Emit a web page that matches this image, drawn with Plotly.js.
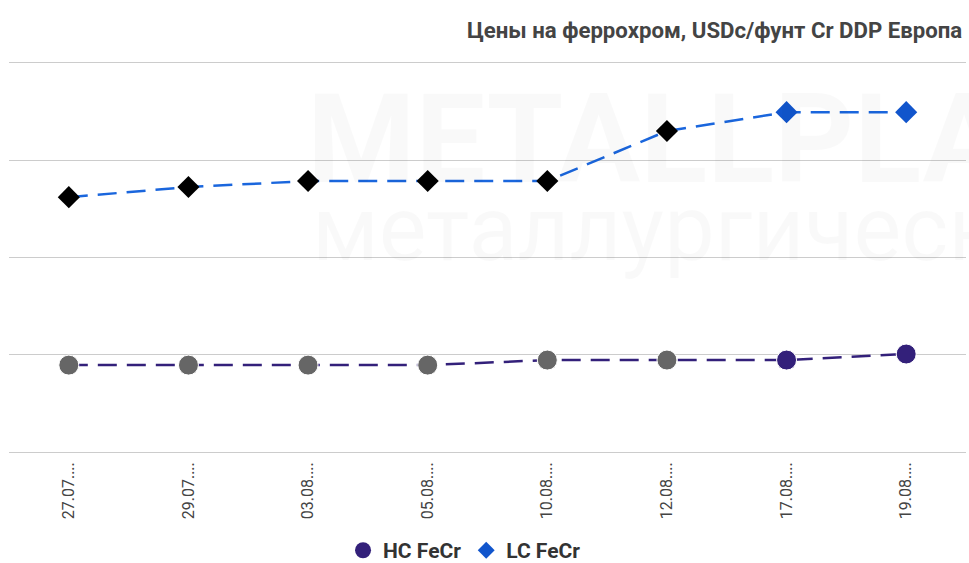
<!DOCTYPE html>
<html>
<head>
<meta charset="utf-8">
<script src="https://cdn.plot.ly/plotly-3.0.1.min.js"></script>
<style>html,body{margin:0;padding:0;background:#fff;}#chart{width:969px;height:563px;}</style>
</head>
<body>
<div id="chart"></div>
<script>
const categories = ['27.07....', '29.07....', '03.08....', '05.08....', '10.08....', '12.08....', '17.08....', '19.08....'];
const hcValues = [94.7, 94.7, 94.7, 94.7, 97.3, 97.3, 97.3, 100.4];
const lcValues = [181, 186.2, 189.3, 189.3, 189.3, 215, 224.7, 224.7];
const hcMarkerColors = ['#666666', '#666666', '#666666', '#666666', '#666666', '#666666', '#33207a', '#33207a'];
const lcMarkerColors = ['#000000', '#000000', '#000000', '#000000', '#000000', '#000000', '#1155cc', '#1155cc'];
const title = 'Цены на феррохром, USDc/фунт Cr DDP Европа';
const hcName = 'HC FeCr';
const lcName = 'LC FeCr';

const traces = [
  {x: categories, y: hcValues, mode: 'lines', line: {color: '#33207a', width: 2.5, dash: '19px,10px'}, showlegend: false, hoverinfo: 'skip'},
  {x: categories, y: lcValues, mode: 'lines', line: {color: '#1a66dd', width: 2.5, dash: '19px,10px'}, showlegend: false, hoverinfo: 'skip'},
  {x: categories, y: hcValues, mode: 'markers', marker: {symbol: 'circle', size: 20, color: hcMarkerColors, line: {color: '#ffffff', width: 1}}, showlegend: false},
  {x: categories, y: lcValues, mode: 'markers', marker: {symbol: 'diamond', size: 17, color: lcMarkerColors, line: {width: 0}}, showlegend: false},
  {x: [null], y: [null], mode: 'markers', name: hcName, marker: {symbol: 'circle', size: 16, color: '#33207a'}},
  {x: [null], y: [null], mode: 'markers', name: lcName, marker: {symbol: 'diamond', size: 13, color: '#1155cc'}}
];

const layout = {
  width: 969, height: 563,
  margin: {l: 9, r: 3, t: 59, b: 107},
  paper_bgcolor: '#ffffff', plot_bgcolor: 'rgba(0,0,0,0)',
  font: {family: 'Roboto, Arial, sans-serif', color: '#444'},
  title: {text: '<b>' + title + '</b>', x: 0.993, xanchor: 'right', xref: 'container', y: 1 - 30 / 563, yanchor: 'middle', yref: 'container', font: {size: 22.2, color: '#444', family: 'Roboto, Arial, sans-serif'}},
  xaxis: {type: 'category', range: [-0.5, 7.5], tickangle: -90, showgrid: false, zeroline: false, showline: false, ticks: '', ticklabelstandoff: 2, tickfont: {size: 16, color: '#444', family: 'Roboto, Arial, sans-serif'}, fixedrange: true},
  yaxis: {range: [48, 252], dtick: 50, tick0: 50, showticklabels: false, gridcolor: '#cccccc', gridwidth: 1, zeroline: false, showline: false, ticks: '', fixedrange: true},
  legend: {orientation: 'h', x: 0.476, xanchor: 'center', y: 0.022, yref: 'container', yanchor: 'middle', font: {size: 21, weight: 'bold', color: '#333', family: 'Roboto, Arial, sans-serif'}, itemwidth: 30},
  annotations: [
    {text: '<b>METALLPLANT</b>', xref: 'paper', yref: 'paper', x: (305 - 9) / 957, y: (456 - 214) / 397, xanchor: 'left', yanchor: 'bottom', showarrow: false, font: {size: 124, color: 'rgba(0,0,0,0.025)', family: 'Roboto, Arial, sans-serif'}},
    {text: 'металлургический', xref: 'paper', yref: 'paper', x: (310 - 9) / 957, y: (456 - 284) / 397, xanchor: 'left', yanchor: 'bottom', showarrow: false, font: {size: 90, color: 'rgba(0,0,0,0.022)', family: 'Roboto, Arial, sans-serif'}}
  ]
};

Plotly.newPlot('chart', traces, layout, {displayModeBar: false, staticPlot: true});
</script>
</body>
</html>
